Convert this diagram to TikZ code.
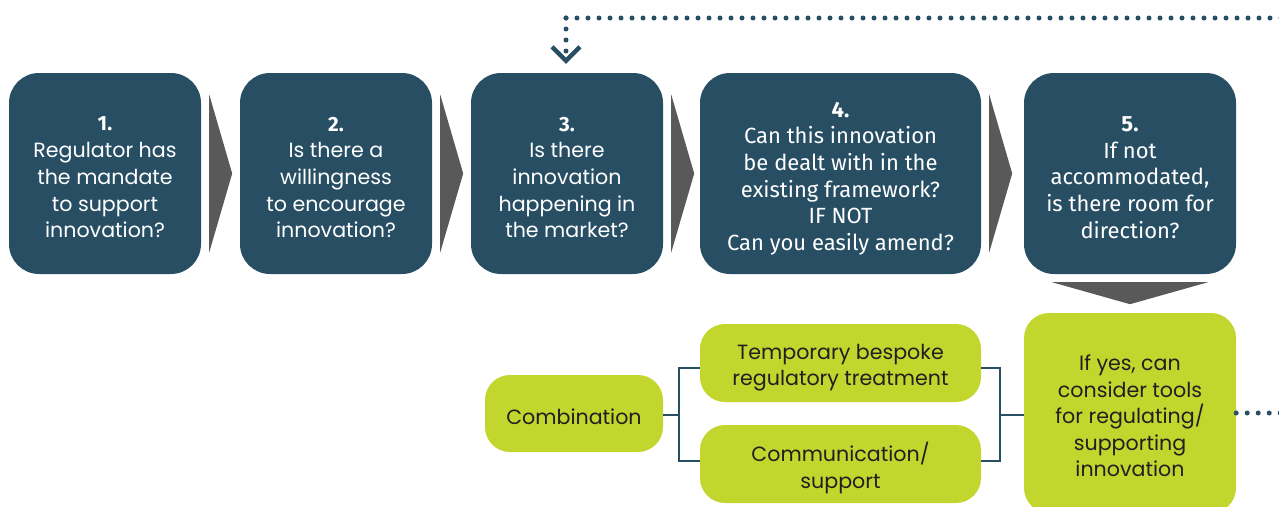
\documentclass[tikz,border=0pt]{standalone}
\usepackage{fontspec}
\setmainfont{Poppins}
\newfontfamily\dinfont{Fira Sans}
\usetikzlibrary{calc}
\definecolor{navy}{HTML}{284E63}
\definecolor{lime}{HTML}{C2D62E}
\definecolor{chevgray}{HTML}{595959}
\definecolor{ink}{HTML}{231F20}
\begin{document}
\begin{tikzpicture}[x=1pt,y=-1pt,
  darkbox/.style={fill=navy,rounded corners=30pt,minimum height=201pt,inner sep=0pt},
  wtext/.style={align=center,text=white,inner sep=0pt},
  mfont/.style={font=\fontsize{20.6}{26.7}\selectfont},
  dfont/.style={font=\dinfont\fontsize{22}{26.7}\selectfont},
  greenbox/.style={fill=lime,rounded corners=25pt,inner sep=0pt},
  gtext/.style={align=center,text=ink,inner sep=0pt,font=\fontsize{20.6}{26.5}\selectfont},
  chev/.style={fill=chevgray},
  dotline/.style={draw=navy,line width=5pt,line cap=round,dash pattern=on 0pt off 11pt},
  bracket/.style={draw=navy,line width=2.8pt},
  ]
\useasboundingbox (0,0) rectangle (1279,506);

% top row boxes
\node[darkbox,minimum width=192pt] (b1) at (105,173.5) {};
\node[darkbox,minimum width=192pt] (b2) at (336,173.5) {};
\node[darkbox,minimum width=192pt] (b3) at (567,173.5) {};
\node[darkbox,minimum width=281pt] (b4) at (840.5,173.5) {};
\node[darkbox,minimum width=212pt] (b5) at (1130,173.5) {};

\node[wtext,mfont] (b1t) at ([yshift=-4pt]b1.center)
  {{\dinfont\bfseries 1.}\\Regulator has\\the mandate\\to support\\innovation?};
\node[wtext,mfont] (b2t) at ([yshift=-4pt]b2.center)
  {{\dinfont\bfseries 2.}\\Is there a\\willingness\\to encourage\\innovation?};
\node[wtext,mfont] (b3t) at ([yshift=-4pt]b3.center)
  {{\dinfont\bfseries 3.}\\Is there\\innovation\\happening in\\the market?};
\node[wtext,dfont] (b4t) at ([yshift=-5pt]b4.center)
  {{\bfseries 4.}\\Can this innovation\\be dealt with in the\\existing framework?\\IF NOT\\Can you easily amend?};
\node[wtext,dfont] (b5t) at ([yshift=-4pt]b5.center)
  {{\bfseries 5.}\\If not\\accommodated,\\is there room for\\direction?};

% chevrons
\foreach \b in {b1,b2,b3,b4}{
  \fill[chev] ($(\b.east)+(8,-79)$) -- ($(\b.east)+(31,0)$) -- ($(\b.east)+(8,79)$) -- cycle;
}
\fill[chev] ($(b5.south)+(-78,8)$) -- ($(b5.south)+(0,30)$) -- ($(b5.south)+(78,8)$) -- cycle;

% green boxes
\node[greenbox,minimum width=212pt,minimum height=200pt] (g5) at (1130,413) {};
\node[greenbox,minimum width=178pt,minimum height=77pt] (comb) at (574,413.5) {};
\node[greenbox,minimum width=281pt,minimum height=78pt] (temp) at (840.5,363) {};
\node[greenbox,minimum width=281pt,minimum height=78pt] (comm) at (840.5,464) {};

\node[gtext] (g5t) at ([yshift=-3pt]g5.center)
  {If yes, can\\consider tools\\for regulating/\\supporting\\innovation};
\node[gtext] (combt) at ([yshift=-3pt]comb.center) {Combination};
\node[gtext] (tempt) at ([yshift=-4.5pt]temp.center) {Temporary bespoke\\regulatory treatment};
\node[gtext] (commt) at ([yshift=-4pt]comm.center) {Communication/\\support};

% brackets
\coordinate (bl) at (679,415);
\coordinate (br) at (1000,415);
\draw[bracket] ([yshift=-5pt]temp.west) -| ([yshift=3pt]bl |- comm.west) -- ([yshift=3pt]comm.west);
\draw[bracket] (comb.east |- bl) -- (bl);
\draw[bracket] ([yshift=-5pt]temp.east) -| ([yshift=3pt]br |- comm.east) -- ([yshift=3pt]comm.east);
\draw[bracket] (br) -- (g5.west |- br);

% dotted feedback line
\coordinate (corner) at (566,18);
\coordinate (topR) at (1290,18);
\coordinate (down) at (566,52);
\coordinate (rightEnd) at (1290,413);
\draw[dotline] (corner) -- (topR);
\draw[dotline] (corner) -- (down);
\draw[dotline] (g5.east |- rightEnd) -- (rightEnd);
\draw[navy,line width=4.5pt] ($(b3.north)+(-15,-26)$) -- ($(b3.north)+(-1,-12)$) -- ($(b3.north)+(13,-26)$);
\end{tikzpicture}
\end{document}
